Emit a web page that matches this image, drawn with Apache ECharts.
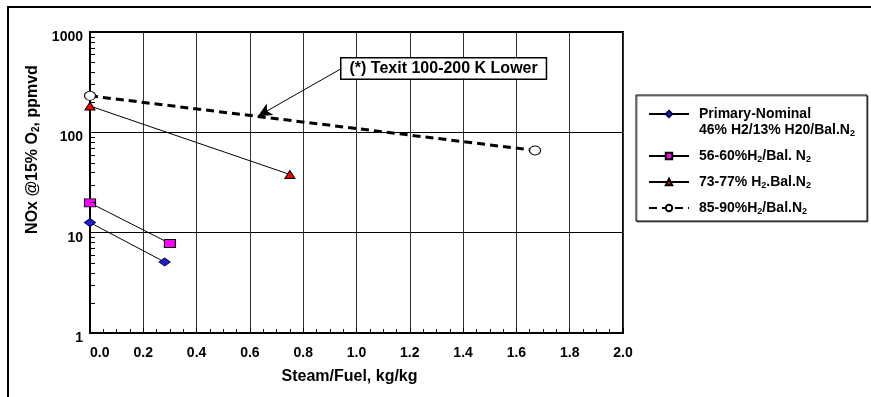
<!DOCTYPE html>
<html>
<head>
<meta charset="utf-8">
<script src="https://cdn.jsdelivr.net/npm/echarts@6/dist/echarts.min.js"></script>
<style>
html, body { margin: 0; padding: 0; background: #fff; }
#charts { width: 871px; height: 397px; }
</style>
</head>
<body>
<div id="charts"></div>
<script>
// values
var xPrimary = [0, 0.28];
var yPrimary = [12.6, 5.1];
var x56 = [0, 0.30];
var y56 = [19.8, 7.8];
var x73 = [0, 0.75];
var y73 = [183, 38];
var x85 = [0, 1.67];
var y85 = [231, 66];
// minor ticks for the log axis
var yMinorTicks = [2, 3, 4, 5, 6, 7, 8, 9, 20, 30, 40, 50, 60, 70, 80, 90, 200, 300, 400, 500, 600, 700, 800, 900];
// annotation arrow (data coords)
var annoFrom = [0.94, 427];
var annoTo = [0.63, 145];

var seriesNames = ['Primary-Nominal', '56-60%H2/Bal. N2', '73-77% H2.Bal.N2', '85-90%H2/Bal.N2'];
var legendText = {
    'Primary-Nominal': '\nPrimary-Nominal\n46% H2/13% H20/Bal.N{sub|2}',
    '56-60%H2/Bal. N2': '56-60%H{sub|2}/Bal. N{sub|2}',
    '73-77% H2.Bal.N2': '73-77% H{sub|2}.Bal.N{sub|2}',
    '85-90%H2/Bal.N2': '85-90%H{sub|2}/Bal.N{sub|2}'
};

function pairs(xs, ys) {
    return xs.map(function (x, i) { return [x, ys[i]]; });
}

var FONT = 'Liberation Sans, Arial, sans-serif';
var subStyle = { fontSize: 9, lineHeight: 9, verticalAlign: 'bottom', fontWeight: 'bold', fontFamily: FONT, color: '#000' };

var myChart = echarts.init(document.getElementById('charts'));
var option = {
    animation: false,
    backgroundColor: '#fff',
    grid: {
        left: 90,
        right: 248,
        top: 32,
        bottom: 64,
        show: true,
        borderColor: '#000',
        borderWidth: 2
    },
    legend: {
        data: seriesNames,
        orient: 'vertical',
        left: 648,
        top: 90,
        padding: 0,
        itemGap: 10,
        itemWidth: 40,
        itemHeight: 8,
        formatter: function (name) { return legendText[name]; },
        textStyle: {
            fontFamily: FONT,
            fontWeight: 'bold',
            fontSize: 14,
            lineHeight: 16,
            color: '#000',
            padding: [0, 0, 0, 5],
            rich: { sub: subStyle }
        }
    },
    xAxis: {
        type: 'value',
        min: 0,
        max: 2,
        interval: 0.2,
        name: 'Steam/Fuel, kg/kg',
        nameLocation: 'middle',
        nameGap: 36,
        nameTextStyle: { fontFamily: FONT, fontWeight: 'bold', fontSize: 16, color: '#000', padding: [0, 14, 0, 0] },
        axisLine: { lineStyle: { color: '#000', width: 2 } },
        axisTick: { inside: true, length: 5, lineStyle: { color: '#000' } },
        minorTick: { show: true, splitNumber: 4, length: 4, lineStyle: { color: '#000' } },
        splitLine: { show: true, lineStyle: { color: '#333', width: 1 } },
        axisLabel: {
            fontFamily: FONT, fontWeight: 'bold', fontSize: 14, color: '#000', margin: 13,
            alignMinLabel: 'left',
            formatter: function (v) { return v.toFixed(1); }
        }
    },
    yAxis: {
        type: 'log',
        logBase: 10,
        min: 1,
        max: 1000,
        name: 'NOx @15% O{sub|2}, ppmvd',
        nameLocation: 'middle',
        nameGap: 46,
        nameTextStyle: {
            fontFamily: FONT, fontWeight: 'bold', fontSize: 16, color: '#000',
            padding: [0, 0, 0, 66],
            rich: { sub: { fontSize: 10, lineHeight: 10, verticalAlign: 'bottom', fontWeight: 'bold', fontFamily: FONT, color: '#000' } }
        },
        axisLine: { lineStyle: { color: '#000', width: 2 } },
        axisTick: { inside: true, length: 5, lineStyle: { color: '#000' } },
        splitLine: { show: true, lineStyle: { color: '#000', width: 1 } },
        axisLabel: {
            fontFamily: FONT, fontWeight: 'bold', fontSize: 14, color: '#000', margin: 7,
            verticalAlign: 'top',
            lineHeight: 10,
            formatter: function (v) { return String(Math.round(v)); }
        }
    },
    graphic: [
        {
            type: 'rect',
            z: 0,
            shape: { x: 8, y: 7, width: 900, height: 500 },
            style: { fill: 'none', stroke: '#000', lineWidth: 2 }
        },
        {
            type: 'rect',
            z: 1,
            shape: { x: 636, y: 95, width: 231, height: 126 },
            style: { fill: '#fff', stroke: '#000', lineWidth: 1, shadowColor: 'rgba(0,0,0,0.5)', shadowOffsetX: 1, shadowOffsetY: 1 }
        },
        {
            type: 'text',
            z: 10,
            left: 340,
            top: 57,
            style: {
                text: '(*) Texit 100-200 K Lower',
                font: 'bold 16px ' + FONT,
                fill: '#000',
                backgroundColor: '#fff',
                borderColor: '#000',
                borderWidth: 1.5,
                padding: [2, 8, 2, 8]
            }
        }
    ],
    series: [
        {
            type: 'custom',
            name: 'minor',
            silent: true,
            clip: false,
            z: 10,
            data: yMinorTicks.map(function (v) { return [0, v]; }),
            renderItem: function (params, api) {
                var p = api.coord([0, api.value(1)]);
                return {
                    type: 'line',
                    shape: { x1: p[0], y1: Math.round(p[1]) + 0.5, x2: p[0] + 5, y2: Math.round(p[1]) + 0.5 },
                    style: { stroke: '#000', lineWidth: 1 }
                };
            }
        },
        {
            name: seriesNames[0],
            type: 'line',
            data: pairs(xPrimary, yPrimary),
            symbol: 'diamond',
            symbolSize: [11, 8],
            itemStyle: { color: '#2020d0', borderColor: '#000050', borderWidth: 1 },
            lineStyle: { color: '#000', width: 1 },
            z: 3
        },
        {
            name: seriesNames[1],
            type: 'line',
            data: pairs(x56, y56),
            symbol: 'rect',
            symbolSize: [11, 8],
            itemStyle: { color: '#ff00ff', borderColor: '#000', borderWidth: 1 },
            lineStyle: { color: '#000', width: 1 },
            z: 3
        },
        {
            name: seriesNames[2],
            type: 'line',
            data: pairs(x73, y73),
            symbol: 'triangle',
            symbolSize: [10, 8],
            itemStyle: { color: '#ff0000', borderColor: '#000', borderWidth: 1 },
            lineStyle: { color: '#000', width: 1 },
            z: 3
        },
        {
            name: seriesNames[3],
            type: 'line',
            data: pairs(x85, y85),
            symbol: 'circle',
            symbolSize: [11, 9],
            itemStyle: { color: '#fff', borderColor: '#000', borderWidth: 1 },
            lineStyle: { color: '#000', width: 3, type: [8, 5] },
            z: 3,
            markLine: {
                silent: true,
                symbol: ['none', 'arrow'],
                symbolSize: [10, 14],
                label: { show: false },
                lineStyle: { color: '#000', width: 1, type: 'solid' },
                data: [[{ coord: annoFrom }, { coord: annoTo }]]
            }
        }
    ]
};
myChart.setOption(option);
</script>
</body>
</html>
